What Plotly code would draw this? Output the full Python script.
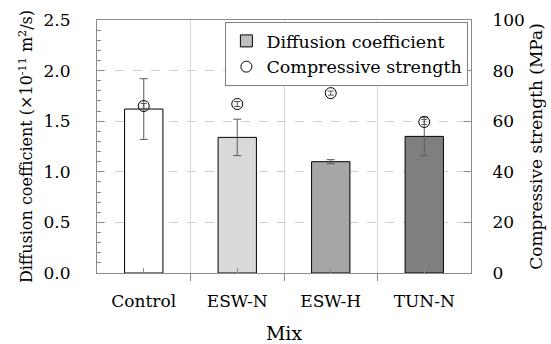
import plotly.graph_objects as go

# Mixes and measured properties
mixes = ["Control", "ESW-N", "ESW-H", "TUN-N"]
diffusion = [1.62, 1.34, 1.10, 1.35]          # ×10^-11 m²/s
diffusion_err = [0.30, 0.18, 0.02, 0.19]
strength = [66.0, 66.8, 71.1, 59.7]           # MPa
strength_err = [1.0, 1.0, 0.8, 1.0]
bar_colors = ["#ffffff", "#d9d9d9", "#a6a6a6", "#7f7f7f"]

FONT = "DejaVu Serif"
AXIS = "#8c8c8c"
ERR = "#5a5a5a"

x_pos = list(range(len(mixes)))

fig = go.Figure()

fig.add_trace(go.Bar(
    x=x_pos, y=diffusion, width=0.41,
    marker=dict(color=bar_colors, line=dict(color="#000000", width=1)),
    error_y=dict(type="data", array=diffusion_err, color=ERR, thickness=1, width=4),
    showlegend=False,
))

# legend entry for the bars
fig.add_trace(go.Bar(
    x=[None], y=[None], name="Diffusion coefficient",
    marker=dict(color="#bfbfbf", line=dict(color="#000000", width=1)),
))

fig.add_trace(go.Scatter(
    x=x_pos, y=strength, yaxis="y2", mode="markers",
    name="Compressive strength",
    marker=dict(symbol="circle-open", size=11, color="#000000", line=dict(width=1)),
    error_y=dict(type="data", array=strength_err, color=ERR, thickness=1, width=3),
))

fig.update_layout(
    width=551, height=344,
    margin=dict(l=97, r=80, t=20, b=71),
    paper_bgcolor="white", plot_bgcolor="white",
    barmode="overlay",
    font=dict(family=FONT, size=17, color="#000000"),
    legend=dict(
        x=0.993, y=0.992, xanchor="right", yanchor="top",
        bordercolor="#808080", borderwidth=1, bgcolor="white",
        font=dict(family=FONT, size=17.5),
        itemwidth=30, tracegroupgap=0,
    ),
    xaxis=dict(
        range=[-0.5, 3.5], automargin=False,
        tickvals=x_pos, ticktext=mixes,
        ticks="inside", ticklen=5, tickcolor=AXIS,
        showgrid=False,
        minor=dict(tick0=0.5, dtick=1, ticks="outside", ticklen=7,
                   tickcolor=AXIS, showgrid=True, gridcolor="#d9d9d9", gridwidth=1),
        showline=True, linecolor=AXIS, linewidth=1, mirror=True,
        zeroline=False,
        ticklabelstandoff=13,
        title=dict(text="Mix", font=dict(size=19), standoff=16),
    ),
    yaxis=dict(
        range=[0, 2.5], dtick=0.5, tickformat=".1f", automargin=False,
        ticks="inside", ticklen=7, tickcolor=AXIS,
        minor=dict(dtick=0.1, ticks="inside", ticklen=4, tickcolor=AXIS),
        showgrid=True, gridcolor="#cfcfcf", griddash="dash", gridwidth=1,
        showline=True, linecolor=AXIS, linewidth=1,
        zeroline=False,
        ticklabelstandoff=22,
        title=dict(text="Diffusion coefficient (×10<sup>-11</sup> m<sup>2</sup>/s)",
                   font=dict(size=16), standoff=6),
    ),
    yaxis2=dict(
        range=[0, 100], dtick=20, overlaying="y", side="right", automargin=False,
        ticks="inside", ticklen=7, tickcolor=AXIS,
        showgrid=False, zeroline=False,
        showline=True, linecolor=AXIS, linewidth=1,
        ticklabelstandoff=17,
        title=dict(text="Compressive strength (MPa)", font=dict(size=17), standoff=6),
    ),
)

fig.write_html("out.html")
